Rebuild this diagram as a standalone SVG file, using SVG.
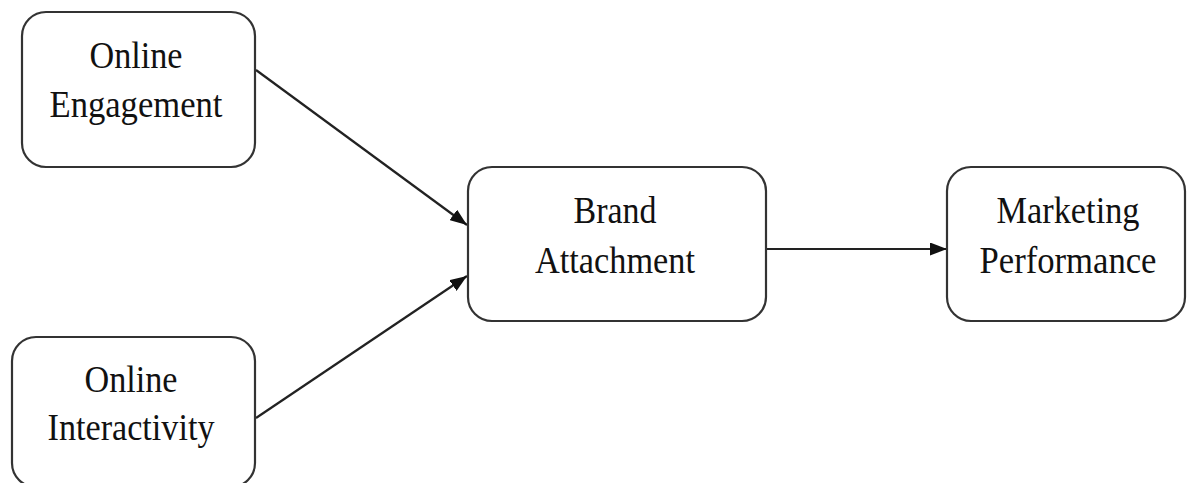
<svg xmlns="http://www.w3.org/2000/svg" width="1190" height="483" viewBox="0 0 1190 483">
<defs>
<marker id="arr" viewBox="0 0 17 13" refX="17" refY="6.5" markerWidth="17" markerHeight="13" markerUnits="userSpaceOnUse" orient="auto">
<path d="M0,0 L17,6.5 L0,13 Z" fill="#111"/>
</marker>
<style>
.box{fill:#fff;stroke:#333;stroke-width:2.2}
.lbl{font-family:"Liberation Serif","Times New Roman",serif;font-size:37px;fill:#111;text-anchor:middle}
.con{stroke:#222;stroke-width:2.2;fill:none;marker-end:url(#arr)}
</style>
</defs>
<rect width="1190" height="483" fill="#fff"/>
<g id="connectors">
<line class="con" x1="256" y1="70" x2="467" y2="225"/>
<line class="con" x1="256" y1="418" x2="467" y2="276"/>
<line class="con" x1="767" y1="249" x2="947" y2="249"/>
</g>
<g id="online-engagement">
<rect class="box" x="22" y="12" width="233" height="155" rx="24"/>
<text class="lbl" x="136" y="68" textLength="93" lengthAdjust="spacingAndGlyphs">Online</text>
<text class="lbl" x="136" y="117" textLength="173" lengthAdjust="spacingAndGlyphs">Engagement</text>
</g>
<g id="online-interactivity">
<rect class="box" x="12" y="337" width="243" height="150" rx="24"/>
<text class="lbl" x="131" y="392" textLength="93" lengthAdjust="spacingAndGlyphs">Online</text>
<text class="lbl" x="131" y="440" textLength="167" lengthAdjust="spacingAndGlyphs">Interactivity</text>
</g>
<g id="brand-attachment">
<rect class="box" x="468" y="167" width="298" height="154" rx="24"/>
<text class="lbl" x="615" y="223" textLength="83" lengthAdjust="spacingAndGlyphs">Brand</text>
<text class="lbl" x="615" y="273" textLength="160" lengthAdjust="spacingAndGlyphs">Attachment</text>
</g>
<g id="marketing-performance">
<rect class="box" x="947" y="167" width="238" height="154" rx="24"/>
<text class="lbl" x="1068" y="223" textLength="143" lengthAdjust="spacingAndGlyphs">Marketing</text>
<text class="lbl" x="1068" y="273" textLength="177" lengthAdjust="spacingAndGlyphs">Performance</text>
</g>
</svg>
